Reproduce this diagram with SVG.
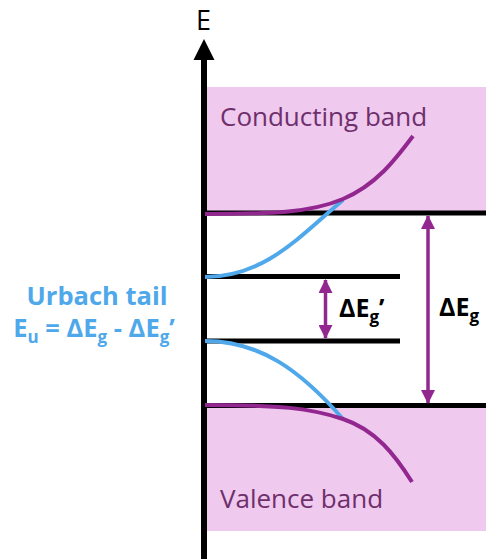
<svg xmlns="http://www.w3.org/2000/svg" width="486" height="559" viewBox="0 0 486 559">
  <defs>
    <style>
      .band { fill: #efc9ee; }
      .level { stroke: #000; stroke-width: 5; fill: none; }
      .pcurve { stroke: #92278f; stroke-width: 4; fill: none; stroke-linecap: butt; }
      .bcurve { stroke: #4ea8ea; stroke-width: 4; fill: none; }
      .darr { stroke: #92278f; stroke-width: 3.5; fill: none; }
      .bandlbl { font-family: "Open Sans", "Noto Sans", sans-serif; font-size: 26px; fill: #6e2f6c; }
      .lbl { font-family: "Open Sans", "Noto Sans", sans-serif; font-weight: bold; font-size: 25px; fill: #000; }
      .urb { font-family: "Open Sans", "Noto Sans", sans-serif; font-weight: bold; font-size: 25.5px; fill: #4ea8ea; }
      .sub { font-size: 17px; }
    </style>
    <marker id="ah" viewBox="0 0 14 14" refX="13" refY="7" markerWidth="14" markerHeight="14" markerUnits="userSpaceOnUse" orient="auto-start-reverse">
      <path d="M0,0 L14,7 L0,14 Z" fill="#92278f"/>
    </marker>
  </defs>

  <g id="conduction-band">
    <rect class="band" x="207" y="87" width="279" height="124"/>
    <text class="bandlbl" x="220" y="126">Conducting band</text>
  </g>

  <g id="valence-band">
    <rect class="band" x="207" y="407" width="279" height="124"/>
    <text class="bandlbl" x="220" y="508">Valence band</text>
  </g>

  <g id="levels">
    <line class="level" x1="204" y1="213" x2="486" y2="213"/>
    <line class="level" x1="204" y1="276.5" x2="400" y2="276.5"/>
    <line class="level" x1="204" y1="341" x2="400" y2="341"/>
    <line class="level" x1="204" y1="405.5" x2="486" y2="405.5"/>
  </g>

  <g id="axis">
    <line x1="204" y1="58" x2="204" y2="559" stroke="#000" stroke-width="6"/>
    <polygon points="204,39 193.5,60 214.5,60" fill="#000"/>
    <text x="196" y="30" font-family="Open Sans, Noto Sans, sans-serif" font-size="27" fill="#000">E</text>
  </g>

  <g id="connectors">
    <path class="bcurve" d="M205,277 C265,277 300,236 343,200"/>
    <path class="bcurve" d="M205,341 C260,341 300,370 343,419"/>
    <path class="pcurve" d="M205,214 C270,214 310,213 343,199 S395,160 413,136"/>
    <path class="pcurve" d="M205,405 C280,405 310,408 343,419 S395,455 412,482"/>
    <line class="darr" x1="325.5" y1="280" x2="325.5" y2="338" marker-start="url(#ah)" marker-end="url(#ah)"/>
    <line class="darr" x1="428" y1="216" x2="428" y2="403" marker-start="url(#ah)" marker-end="url(#ah)"/>
  </g>

  <g id="gap-labels">
    <text class="lbl" x="339" y="317">ΔE<tspan class="sub" dy="6">g</tspan><tspan dy="-6">’</tspan></text>
    <text class="lbl" x="439" y="316">ΔE<tspan class="sub" dy="6">g</tspan></text>
  </g>

  <g id="urbach">
    <text class="urb" x="97" y="305" text-anchor="middle">Urbach tail</text>
    <text class="urb" x="94" y="337" text-anchor="middle">E<tspan class="sub" dy="6">u</tspan><tspan dy="-6"> = ΔE</tspan><tspan class="sub" dy="6">g</tspan><tspan dy="-6"> - ΔE</tspan><tspan class="sub" dy="6">g</tspan><tspan dy="-6">’</tspan></text>
  </g>
</svg>
